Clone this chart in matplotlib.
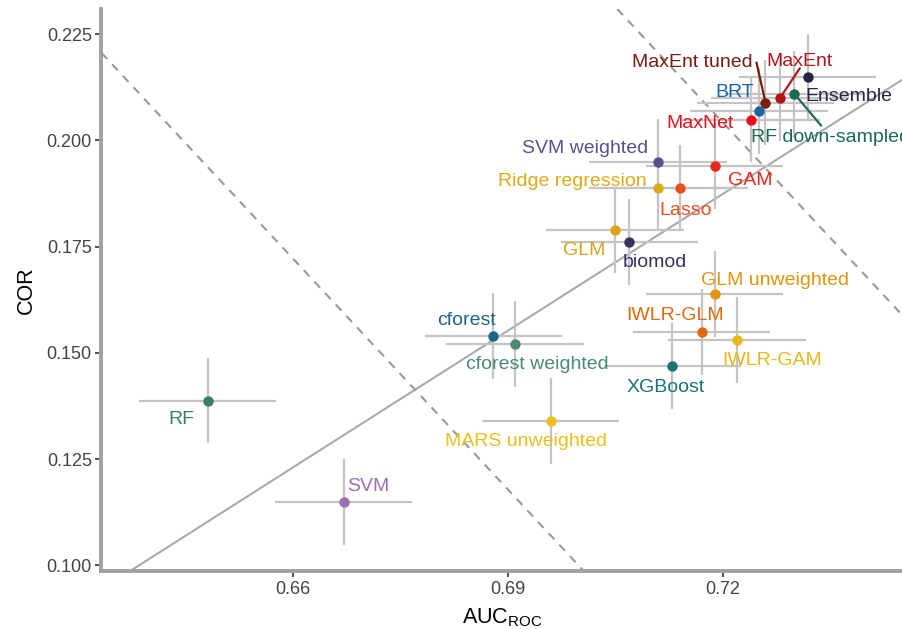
import matplotlib
matplotlib.use("Agg")
import matplotlib.pyplot as plt

plt.rcParams['font.family'] = ['Liberation Sans', 'DejaVu Sans']
plt.rcParams['mathtext.fontset'] = 'custom'
plt.rcParams['mathtext.rm'] = 'Liberation Sans'
plt.rcParams['mathtext.it'] = 'Liberation Sans'

models = ["Ensemble", "RF down-sampled", "MaxEnt", "MaxEnt tuned", "BRT", "MaxNet",
          "SVM weighted", "GAM", "Ridge regression", "Lasso", "GLM", "biomod",
          "GLM unweighted", "IWLR-GLM", "IWLR-GAM", "XGBoost", "cforest",
          "cforest weighted", "MARS unweighted", "RF", "SVM"]
auc = [0.7319, 0.7300, 0.7280, 0.7260, 0.7251, 0.7240,
       0.7110, 0.7189, 0.7110, 0.7140, 0.7050, 0.7070,
       0.7189, 0.7171, 0.7220, 0.7130, 0.6880,
       0.6910, 0.6960, 0.6481, 0.6671]
cor = [0.2150, 0.2110, 0.2099, 0.2089, 0.2069, 0.2049,
       0.1949, 0.1940, 0.1889, 0.1889, 0.1790, 0.1760,
       0.1639, 0.1550, 0.1530, 0.1470, 0.1540,
       0.1520, 0.1340, 0.1388, 0.1149]
auc_err = [0.0096] * len(models)
cor_err = [0.0101] * len(models)
colors = ["#2b2341", "#1a6b4f", "#b2151b", "#7b1a10", "#1a64a0", "#e8101c",
          "#5b4f8f", "#e8281e", "#dcab18", "#e8501e", "#dca21c", "#383260",
          "#e0950f", "#e06a0f", "#e6b81e", "#1b7173", "#1c6584",
          "#4b8a72", "#e8c020", "#3a7f62", "#9b6fb0"]

# label layout: offset (pixels) from point, horizontal alignment, optional leader end offset
label_layout = {
    "Ensemble": ((-2, -20), 'left', None),
    "RF down-sampled": ((-43, -44), 'left', (27, -32)),
    "MaxEnt": ((20, 37), 'center', (20, 30)),
    "MaxEnt tuned": ((-13, 40), 'right', (-9, 40)),
    "BRT": ((-5, 19), 'right', None),
    "MaxNet": ((-17, -4), 'right', None),
    "SVM weighted": ((-10, 14), 'right', None),
    "GAM": ((13, -15), 'left', None),
    "Ridge regression": ((-11, 6), 'right', None),
    "Lasso": ((6, -23), 'center', None),
    "GLM": ((-10, -21), 'right', None),
    "biomod": ((-7, -20), 'left', None),
    "GLM unweighted": ((-14, 13), 'left', None),
    "IWLR-GLM": ((-27, 16), 'center', None),
    "IWLR-GAM": ((-15, -20), 'left', None),
    "XGBoost": ((-7, -22), 'center', None),
    "cforest": ((3, 15), 'right', None),
    "cforest weighted": ((23, -20), 'center', None),
    "MARS unweighted": ((-25, -21), 'center', None),
    "RF": ((-13, -19), 'right', None),
    "SVM": ((4, 16), 'left', None),
}

fig = plt.figure(figsize=(9.03, 6.29), dpi=100)
ax = fig.add_axes([0.1124, 0.0922, 0.8876, 0.8935])
ax.set_xlim(0.6333, 0.7452)
ax.set_ylim(0.0987, 0.2309)

# reference lines
ax.axline((0.6373, 0.0987), slope=1.072, color="#aaaaaa", lw=1.5, zorder=1)
ax.axline((0.67707, 0.14135), slope=-1.81, color="#999999", lw=1.5,
          ls=(0, (4, 3.5)), zorder=1)
ax.axline((0.71976, 0.20474), slope=-1.81, color="#999999", lw=1.5,
          ls=(0, (4, 3.5)), zorder=1)

for i, m in enumerate(models):
    ax.errorbar(auc[i], cor[i], xerr=auc_err[i], yerr=cor_err[i], fmt='none',
                ecolor="#c4c4c4", elinewidth=1.6, capsize=0, zorder=2)
for i, m in enumerate(models):
    ax.plot(auc[i], cor[i], 'o', color=colors[i], ms=7.5, mec='none', zorder=4)
    (dx, dy), ha, lead = label_layout[m]
    ax.annotate(m, (auc[i], cor[i]), xytext=(dx, dy), textcoords='offset pixels',
                ha=ha, va='center', color=colors[i], fontsize=14, zorder=5,
                annotation_clip=False)
    if lead is not None:
        ax.annotate("", (auc[i], cor[i]), xytext=lead, textcoords='offset pixels',
                    arrowprops=dict(arrowstyle='-', color=colors[i], lw=1.6,
                                    shrinkA=0, shrinkB=0), zorder=3)

xticks = [0.66, 0.69, 0.72]
yticks = [0.100, 0.125, 0.150, 0.175, 0.200, 0.225]
ax.set_xticks(xticks)
ax.set_xticklabels([f"{t:.2f}" for t in xticks])
ax.set_yticks(yticks)
ax.set_yticklabels([f"{t:.3f}" for t in yticks])

for s in ['top', 'right']:
    ax.spines[s].set_visible(False)
for s in ['left', 'bottom']:
    ax.spines[s].set_color("#a0a0a0")
    ax.spines[s].set_linewidth(2.8)
ax.tick_params(axis='both', length=4, width=1.2, color="#333333",
               labelsize=13, labelcolor="#444444", pad=3)
ax.set_xlabel(r"AUC$_{\mathrm{ROC}}$", fontsize=15.5, color="black", labelpad=6)
ax.set_ylabel("COR", fontsize=15.5, color="black", labelpad=7)

fig.savefig("out.png", dpi=100)
